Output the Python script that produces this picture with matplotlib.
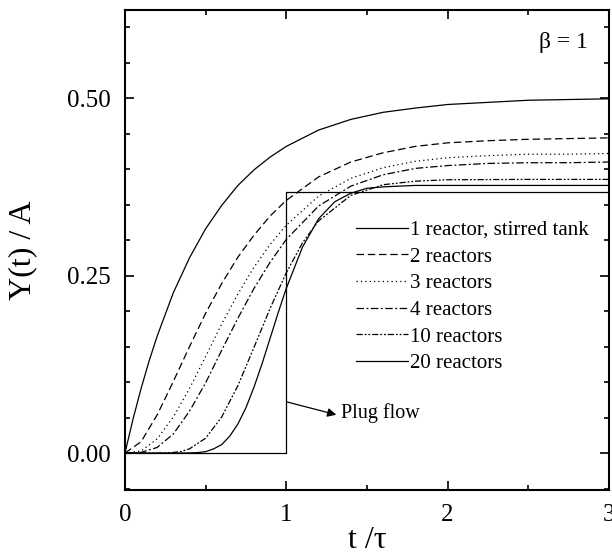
#!/usr/bin/env python3
# -*- coding: utf-8 -*-
"""Step response of N stirred tanks in series with reaction (beta = 1)."""

import matplotlib
matplotlib.use("Agg")
import matplotlib.pyplot as plt
from matplotlib.ticker import MultipleLocator

plt.rcParams['font.family'] = ['Liberation Serif', 'DejaVu Serif']

# Values
T_1 = [0.0, 0.05, 0.1, 0.15, 0.2, 0.3, 0.4, 0.5, 0.6, 0.7, 0.8, 0.9, 1.0,
       1.2, 1.4, 1.6, 1.8, 2.0, 2.25, 2.5, 2.75, 3.0]
Y_1 = [0.000, 0.048, 0.091, 0.130, 0.165, 0.226, 0.275, 0.316, 0.349, 0.377, 0.399, 0.417, 0.432,
       0.455, 0.470, 0.480, 0.486, 0.491, 0.494, 0.497, 0.498, 0.499]

T_2 = [0.0, 0.1, 0.2, 0.3, 0.4, 0.5, 0.6, 0.7, 0.8, 0.9, 1.0,
       1.2, 1.4, 1.6, 1.8, 2.0, 2.25, 2.5, 2.75, 3.0]
Y_2 = [0.000, 0.016, 0.054, 0.101, 0.150, 0.197, 0.239, 0.276, 0.307, 0.334, 0.356,
       0.389, 0.410, 0.423, 0.432, 0.437, 0.440, 0.442, 0.443, 0.444]
Y_3 = [0.000, 0.003, 0.020, 0.051, 0.091, 0.136, 0.182, 0.224, 0.262, 0.294, 0.321,
       0.362, 0.387, 0.402, 0.411, 0.416, 0.419, 0.421, 0.421, 0.422]
Y_4 = [0.000, 0.001, 0.008, 0.027, 0.059, 0.099, 0.145, 0.190, 0.232, 0.269, 0.301,
       0.348, 0.376, 0.392, 0.401, 0.405, 0.408, 0.409, 0.409, 0.410]

T_10 = [0.0, 0.2, 0.25, 0.3, 0.35, 0.4, 0.5, 0.6, 0.7, 0.8, 0.9, 1.0, 1.1,
        1.2, 1.4, 1.6, 1.8, 2.0, 2.5, 3.0]
Y_10 = [0.000, 0.000, 0.0002, 0.0009, 0.0024, 0.006, 0.021, 0.051, 0.095, 0.149, 0.204,
        0.254, 0.296, 0.327, 0.363, 0.378, 0.383, 0.385, 0.3855, 0.3855]

T_20 = [0.0, 0.4, 0.45, 0.5, 0.55, 0.6, 0.65, 0.7, 0.75, 0.8, 0.85, 0.9, 0.95,
        1.0, 1.1, 1.2, 1.3, 1.4, 1.5, 1.6, 1.8, 2.0, 3.0]
Y_20 = [0.000, 0.0002, 0.0007, 0.002, 0.006, 0.012, 0.024, 0.041, 0.064, 0.093, 0.126,
        0.162, 0.198, 0.232, 0.290, 0.330, 0.354, 0.366, 0.373, 0.375, 0.377, 0.377, 0.377]

T_PLUG = [0.0, 1.0, 1.0, 3.0]
Y_PLUG = [0.0, 0.0, 0.368, 0.368]

LABELS = ['1 reactor, stirred tank', '2 reactors', '3 reactors',
          '4 reactors', '10 reactors', '20 reactors']
X_TICKS = [0, 1, 2, 3]
Y_TICKS = [0.0, 0.25, 0.5]


def main():
    fig = plt.figure(figsize=(6.12, 5.60), dpi=100)
    ax = fig.add_axes([0.2042, 0.125, 0.7908, 0.857])

    lw = 0.9
    ax.plot(T_1, Y_1, color='k', lw=lw, ls='-', label=LABELS[0])
    ax.plot(T_2, Y_2, color='k', lw=lw, ls=(0, (6, 3)), label=LABELS[1])
    ax.plot(T_2, Y_3, color='k', lw=lw, ls=(0, (1, 2.5)), label=LABELS[2])
    ax.plot(T_2, Y_4, color='k', lw=lw, ls=(0, (6, 2, 1.5, 2)), label=LABELS[3])
    ax.plot(T_10, Y_10, color='k', lw=lw, ls=(0, (5, 1.5, 1.5, 1.5, 1.5, 1.5)), label=LABELS[4])
    ax.plot(T_20, Y_20, color='k', lw=lw, ls='-', label=LABELS[5])
    ax.plot(T_PLUG, Y_PLUG, color='k', lw=lw, ls='-')

    ax.set_xlim(0, 3)
    ax.set_ylim(-0.052, 0.624)
    ax.set_xticks(X_TICKS)
    ax.set_xticklabels([str(x) for x in X_TICKS])
    ax.set_yticks(Y_TICKS)
    ax.set_yticklabels([f'{y:.2f}' for y in Y_TICKS])
    ax.xaxis.set_minor_locator(MultipleLocator(0.5))
    ax.yaxis.set_minor_locator(MultipleLocator(0.05))

    ax.tick_params(which='both', direction='in', top=True, right=True, width=1.2)
    ax.tick_params(which='major', length=6.5)
    ax.tick_params(which='minor', length=3.5)
    ax.tick_params(axis='y', labelsize=18, pad=10)
    ax.tick_params(axis='x', labelsize=18, pad=10)
    for sp in ax.spines.values():
        sp.set_linewidth(1.5)

    ax.set_xlabel('t /τ', fontsize=23, labelpad=0)
    ax.set_ylabel('Y(t) / A', fontsize=23, labelpad=22)

    ax.text(2.565, 0.579, 'β = 1', fontsize=17, ha='left', va='center')

    # Plug flow arrow
    ax.annotate('', xy=(1.31, 0.054), xytext=(1.005, 0.072),
                arrowprops=dict(arrowstyle='-|>', color='k', lw=0.9,
                                mutation_scale=13, shrinkA=0, shrinkB=0))
    ax.text(1.34, 0.056, 'Plug flow', fontsize=14.5, ha='left', va='center')

    ax.legend(loc='upper left', bbox_to_anchor=(0.477, 0.562), frameon=False,
              fontsize=15, handlelength=2.5, handletextpad=0.1,
              labelspacing=0.34, borderpad=0, borderaxespad=0)

    fig.savefig('out.png', dpi=100)
    plt.close(fig)


if __name__ == "__main__":
    main()
